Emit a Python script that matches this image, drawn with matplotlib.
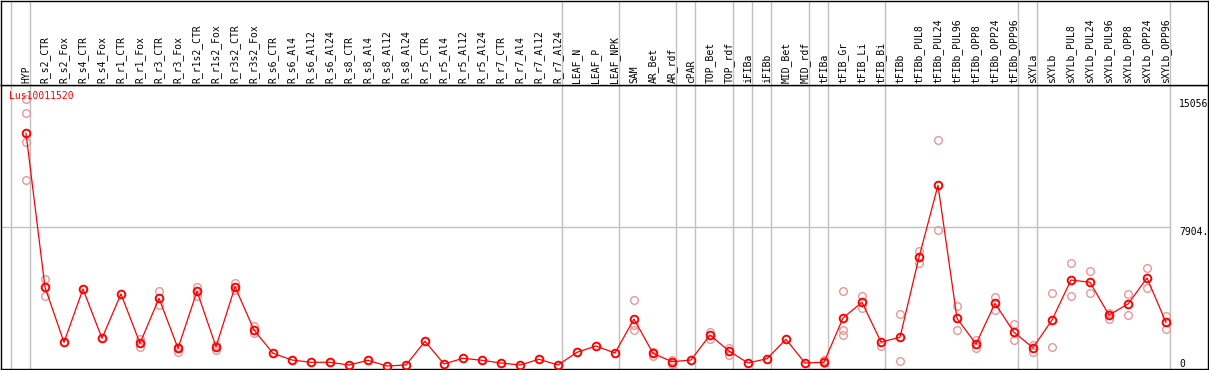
import numpy as np
import matplotlib.pyplot as plt

labels = ["HYP", "R_s2_CTR", "R_s2_Fox", "R_s4_CTR", "R_s4_Fox", "R_r1_CTR", "R_r1_Fox",
          "R_r3_CTR", "R_r3_Fox", "R_r1s2_CTR", "R_r1s2_Fox", "R_r3s2_CTR", "R_r3s2_Fox",
          "R_s6_CTR", "R_s6_Al4", "R_s6_Al12", "R_s6_Al24", "R_s8_CTR", "R_s8_Al4",
          "R_s8_Al12", "R_s8_Al24", "R_r5_CTR", "R_r5_Al4", "R_r5_Al12", "R_r5_Al24",
          "R_r7_CTR", "R_r7_Al4", "R_r7_Al12", "R_r7_Al24", "LEAF_N", "LEAF_P", "LEAF_NPK",
          "SAM", "AR_Bet", "AR_rdf", "cPAR", "TOP_Bet", "TOP_rdf", "iFIBa", "iFIBb",
          "MID_Bet", "MID_rdf", "tFIBa", "tFIB_Gr", "tFIB_Li", "tFIB_Bi", "tFIBb",
          "tFIBb_PUL8", "tFIBb_PUL24", "tFIBb_PUL96", "tFIBb_OPP8", "tFIBb_OPP24",
          "tFIBb_OPP96", "sXYLa", "sXYLb", "sXYLb_PUL8", "sXYLb_PUL24", "sXYLb_PUL96",
          "sXYLb_OPP8", "sXYLb_OPP24", "sXYLb_OPP96"]

means = [13119, 4547, 1486, 4453, 1709, 4175, 1430, 3935, 1152, 4325, 1241, 4581, 2171,
         874, 501, 373, 373, 223, 484, 167, 223, 1542, 278, 596, 484, 334, 223, 540, 223,
         930, 1280, 891, 2783, 874, 406, 501, 1892, 1002, 334, 573, 1653, 334, 373,
         2839, 3713, 1503, 1764, 6217, 10225, 2822, 1392, 3657, 2043, 1186, 2727, 4954,
         4826, 3006, 3618, 5065, 2599]

replicates = {
    "HYP": [15056, 14232, 12618, 10503],
    "R_s2_CTR": [5009, 4046],
    "R_r1_Fox": [1653, 1241],
    "R_r3_CTR": [4341, 3562],
    "R_r3_Fox": [930, 1241],
    "R_r1s2_CTR": [4581, 4080],
    "R_r1s2_Fox": [1058, 1336],
    "R_r3s2_CTR": [4770, 4397],
    "R_r3s2_Fox": [2410, 1987],
    "SAM": [3841, 2449, 2171],
    "AR_Bet": [963, 724],
    "AR_rdf": [501, 278],
    "TOP_Bet": [2043, 1670],
    "TOP_rdf": [1152, 779],
    "tFIBa": [501, 317],
    "tFIB_Gr": [4341, 2171, 1892],
    "tFIB_Li": [4063, 3412],
    "tFIB_Bi": [1297],
    "tFIBb": [3061, 429],
    "tFIBb_PUL8": [6568, 5883],
    "tFIBb_PUL24": [12730, 7720],
    "tFIBb_PUL96": [3507, 2171],
    "tFIBb_OPP8": [1614, 1152],
    "tFIBb_OPP24": [4024, 3284],
    "tFIBb_OPP96": [2505, 1614],
    "sXYLa": [1336, 930],
    "sXYLb": [4213, 1225],
    "sXYLb_PUL8": [5900, 4063],
    "sXYLb_PUL24": [5455, 4247],
    "sXYLb_PUL96": [3134, 2783],
    "sXYLb_OPP8": [4175, 3006],
    "sXYLb_OPP24": [5622, 4508],
    "sXYLb_OPP96": [2950, 2210],
}

group_ends = ["HYP", "R_r7_Al24", "LEAF_NPK", "AR_rdf", "cPAR", "TOP_rdf", "iFIBa", "iFIBb",
              "MID_rdf", "tFIBa", "tFIB_Bi", "tFIBb_OPP96", "sXYLa", "sXYLb_OPP96"]

gene = "Lus10011520"
y_max = 15056
y_mid_label = "7904."

W, H = 1209, 370
fig = plt.figure(figsize=(W / 100, H / 100), dpi=100)
mono = "DejaVu Sans Mono"
fs = 7

x = np.arange(len(labels))
xlim = ((1 - 26) / 19, (1208 - 26) / 19)
ytop = y_max * 1.05

ax = fig.add_axes([1 / W, 1 / H, 1207 / W, 284 / H])
hdr = fig.add_axes([1 / W, 285 / H, 1207 / W, 84.5 / H])

for a in (ax, hdr):
    a.set_xlim(*xlim)
    a.set_xticks([])
    a.set_yticks([])
    for s in a.spines.values():
        s.set_color("black")
        s.set_linewidth(1.0)
    # group separators
    seps = [-1] + [labels.index(g) for g in group_ends]
    for k in seps:
        a.axvline(k + 4 / 19, color="#c0c0c0", lw=1.0, zorder=0)

ax.set_ylim(0, ytop)
ax.axhline(ytop / 2, xmax=(1170 - 1) / 1207, color="#c0c0c0", lw=1.0, zorder=0)

# replicates
for lab, vals in replicates.items():
    i = labels.index(lab)
    ax.plot([i] * len(vals), vals, "o", ms=5.5, mfc="none", mec="#e8979a", mew=1.0, zorder=2)

ax.plot(x, means, "-", color="red", lw=0.9, zorder=3)
ax.plot(x, means, "o", ms=5.5, mfc="none", mec="red", mew=1.4, zorder=4)

ax.text((9 - 26) / 19, ytop * (1 - 6 / 284), gene, color="red", fontsize=fs,
        family=mono, ha="left", va="top")
xr = (1179 - 26) / 19
ax.text(xr, y_max, str(y_max), fontsize=fs, family=mono, ha="left", va="top")
ax.text(xr, ytop / 2, y_mid_label, fontsize=fs, family=mono, ha="left", va="top")
ax.text(xr, 0, "0", fontsize=fs, family=mono, ha="left", va="bottom")

hdr.set_ylim(0, 84.5)
for i, lab in enumerate(labels):
    hdr.text(i, 2, lab, rotation=90, fontsize=fs, family=mono, ha="center", va="bottom")

fig.savefig("out.png", dpi=100)
